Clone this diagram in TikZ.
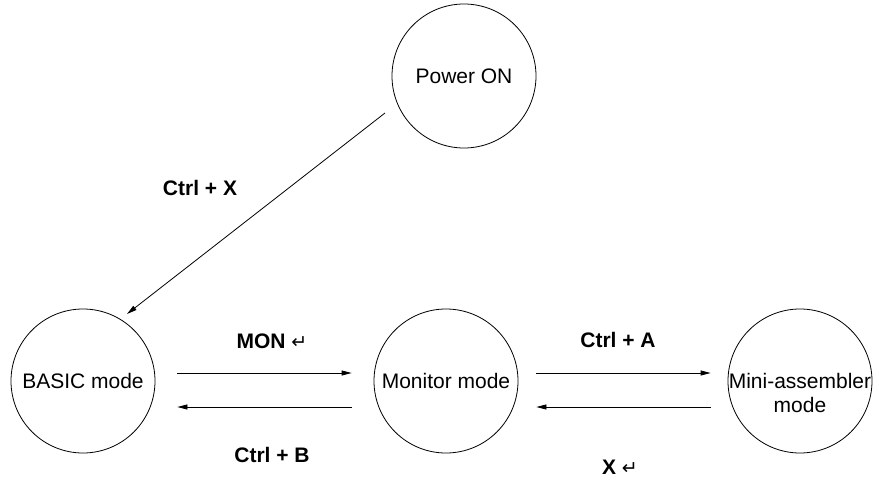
\documentclass[tikz,border=0pt]{standalone}
\usepackage{fontspec}
\setmainfont{Liberation Sans}
\newfontfamily\symfont{DejaVu Sans}
\usetikzlibrary{arrows.meta,calc}
\newcommand{\retsym}{{\symfont\fontsize{19}{19}\selectfont\mdseries ↵}}
\tikzset{
  statenode/.style={draw, circle, line width=0.8pt, minimum size=144pt, inner sep=0pt,
    align=center, font=\fontsize{21}{24}\selectfont},
  keylabel/.style={font=\fontsize{21}{24}\selectfont\bfseries, inner sep=0pt},
  flow/.style={line width=0.8pt, -{Triangle[length=10pt,width=5pt]}}
}
\begin{document}
\begin{tikzpicture}[x=1pt, y=-1pt]
\useasboundingbox (0,0) rectangle (879,482);
\node[statenode] (power) at (464,76) {Power ON};
\node[statenode] (basic) at (83,381) {BASIC mode};
\node[statenode] (monitor) at (446,381) {Monitor mode};
\node[statenode, label={[name=minitext, align=center, font=\fontsize{21}{23.5}\selectfont, yshift=-12pt]center:{Mini-assembler\\mode}}] (mini) at (800,381) {};

\draw[flow] ($(power.center)+(-79,37)$) -- ($(basic.center)+(44,-67)$);

\draw[flow] ($(basic.east)+(22,-8)$) -- ($(monitor.west)+(-22,-8)$);
\draw[flow] ($(monitor.west)+(-22,26)$) -- ($(basic.east)+(22,26)$);
\draw[flow] ($(monitor.east)+(18,-8)$) -- ($(mini.west)+(-17,-8)$);
\draw[flow] ($(mini.west)+(-17,26)$) -- ($(monitor.east)+(18,26)$);

\node[keylabel] (lx) at (200,188) {Ctrl + X};
\node[keylabel] (lmon) at (272,341) {MON \retsym};
\node[keylabel] (lb) at (272,455) {Ctrl + B};
\node[keylabel] (la) at (618,340) {Ctrl + A};
\node[keylabel] (lxr) at (620,467) {X \retsym};
\end{tikzpicture}
\end{document}
